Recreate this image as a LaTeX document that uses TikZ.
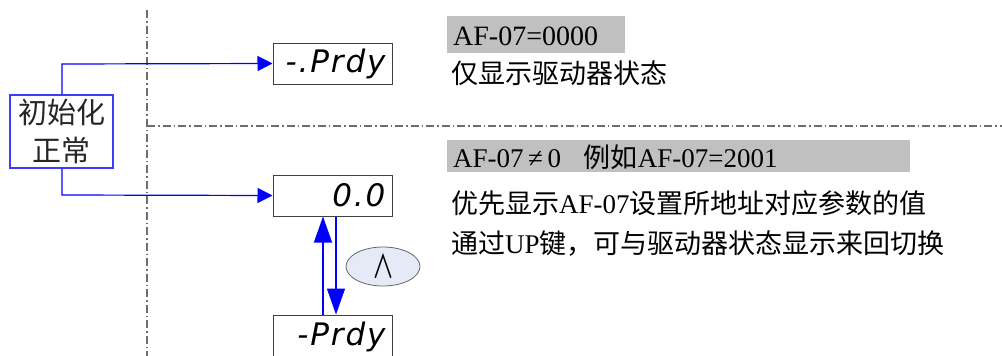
\documentclass[tikz,border=0pt]{standalone}
\usepackage{fontspec}
\usepackage{graphicx}
\setmainfont{Liberation Serif}
\newfontfamily\cjk{Noto Sans CJK SC}
\newfontfamily\seg{DejaVu Sans}[LetterSpace=6]
\usetikzlibrary{arrows.meta,shapes.geometric}
\definecolor{arrblue}{RGB}{0,0,255}
\definecolor{boxblue}{RGB}{60,60,255}
\definecolor{sepgray}{RGB}{110,110,110}
\definecolor{hlgray}{RGB}{192,192,192}
\definecolor{ellfill}{RGB}{228,234,246}
\tikzset{
  dispbox/.style={draw=black!75, line width=1pt, minimum width=119pt, minimum height=41pt, inner sep=0pt},
  segtext/.style={font=\seg\itshape\fontsize{31}{31}\selectfont},
  initbox/.style={draw=boxblue, line width=1.2pt, minimum width=103pt, minimum height=73pt, align=center, font=\cjk\fontsize{29}{38}\selectfont, text=black!85},
  flow/.style={draw=boxblue, line width=1.2pt, -{Triangle[length=15pt,width=15pt]}, arrblue},
  toggle/.style={arrblue, line width=1.4pt, -{Triangle[length=26pt,width=18pt]}},
  sep/.style={sepgray, line width=1.2pt, dash pattern=on 8pt off 3pt on 1.5pt off 3pt},
  hlbox/.style={fill=hlgray, inner sep=0pt, anchor=north west},
  note/.style={anchor=west, inner sep=0pt, font=\fontsize{27}{30}\selectfont},
}
\begin{document}
\begin{tikzpicture}[x=1pt,y=-1pt]
\useasboundingbox (0,0) rectangle (1002,356);
% separators
\coordinate (vtop) at (147,10);
\coordinate (vbot) at (147,356);
\coordinate (hl) at (147,126);
\coordinate (hr) at (1002,126);
\draw[sep] (vtop) -- (vbot);
\draw[sep] (hl) -- (hr);
% init box
\node[initbox] (init) at (61.5,131.5) {初始化\\正常};
% display boxes
\node[dispbox] (d1) at (332.5,63.5) {};
\node[segtext, anchor=east] (t1) at (389,64) {-.Prdy};
\node[dispbox] (d2) at (332.5,195.5) {};
\node[segtext, anchor=east] (t2) at (389,195) {0.0};
\node[dispbox, minimum height=50pt] (d3) at (332.5,340) {};
\node[segtext, anchor=east] (t3) at (389,337) {-Prdy};
% key ellipse
\node[draw=black!60, fill=ellfill, ellipse, minimum width=74pt, minimum height=39pt, inner sep=0pt, line width=0.8pt] (key) at (383,266.5) {\resizebox{22pt}{25pt}{\cjk ∧}};
% flow arrows
\coordinate (c1) at (62,64);
\coordinate (c2) at (62,195);
\draw[flow] (init.north -| c1) -- (c1) -- (d1.west);
\draw[flow] (init.south -| c2) -- (c2) -- (d2.west);
% toggle arrows
\coordinate (u1) at (323,315);
\coordinate (u2) at (323,217);
\coordinate (w1) at (336,216);
\coordinate (w2) at (336,315);
\draw[toggle] (d3.north -| u1) -- (d2.south -| u2);
\draw[toggle] (d2.south -| w1) -- (d3.north -| w2);
% notes
\node[hlbox, minimum width=178pt, minimum height=37pt] (h1) at (447,16) {};
\node[note, font=\fontsize{28}{30}\selectfont] (n1) at (453,36) {AF-07=0000};
\node[note] (n2) at (451,73) {\cjk 仅显示驱动器状态};
\node[hlbox, minimum width=463pt, minimum height=32pt] (h2) at (447,140) {};
\node[note] (n3) at (453,157) {AF-07\,≠\,0\hspace{0.6em} {\cjk 例如}AF-07=2001};
\node[note] (n4) at (451,203) {{\cjk 优先显示}AF-07{\cjk 设置所地址对应参数的值}};
\node[note] (n5) at (451,244) {{\cjk 通过}UP{\cjk 键，可与驱动器状态显示来回切换}};
\end{tikzpicture}
\end{document}
